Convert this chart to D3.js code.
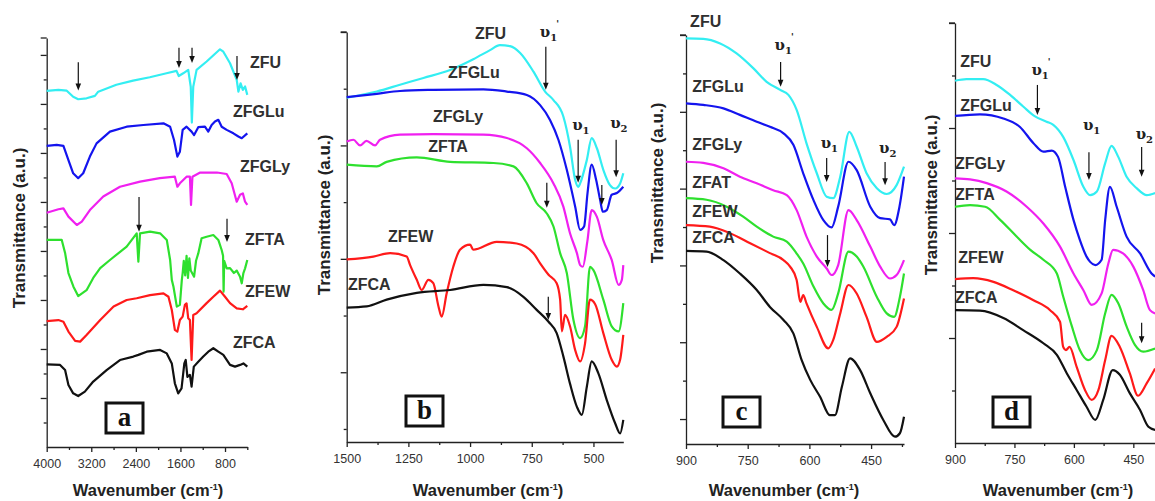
<!DOCTYPE html>
<meta charset="utf-8">
<style>
body { margin: 0; background: #fff; }
svg { font-family: Arial, "Liberation Sans", sans-serif; }
.series { fill: none; stroke-width: 2.2; stroke-linejoin: round; }
.axis path, .axis line { stroke: #222; stroke-width: 1.3; }
.axis text { font-size: 12.5px; fill: #333; }
.lab { font-size: 16px; font-weight: bold; fill: #303030; }
.title { font-size: 16.5px; font-weight: bold; fill: #222; }
.ytitle { font-size: 17px; font-weight: bold; fill: #222; }
.ups { font-family: "DejaVu Serif", serif; font-size: 15px; font-weight: bold; fill: #222; }
</style>
<svg width="1155" height="501"></svg>
<script src="https://cdn.jsdelivr.net/npm/d3@7"></script>
<script>

// ---- panel a : 4000-400 cm-1, [wavenumber, transmittance a.u.]
var a_ZFU = [[4000,14.53],[3790,14.57],[3640,14.54],[3525,14.29],[3435,14.19],[3285,14.23],[3135,14.33],[3075,14.5],[2750,14.78],[2450,14.95],[2150,15.09],[1850,15.25],[1670,15.35],[1630,15.14],[1550,15.25],[1460,15.39],[1415,14.7],[1395,13.24],[1370,14.7],[1310,15.39],[1130,15.73],[890,16.23],[830,16.13],[710,15.66],[590,14.98],[560,14.5],[520,14.84],[480,14.57],[440,14.71],[400,14.37]];
var a_ZFGLu = [[4000,12.29],[3820,12.33],[3700,12.29],[3610,11.71],[3525,11.17],[3435,10.97],[3345,11.17],[3225,11.85],[3105,12.39],[2865,12.87],[2565,13.07],[2265,13.14],[1905,13.21],[1785,13.07],[1715,12.53],[1655,11.85],[1610,12.05],[1560,12.94],[1490,13.07],[1400,12.87],[1355,12.73],[1280,13.05],[1160,13.07],[1100,12.87],[1040,13.14],[980,13.28],[920,13.35],[860,13.07],[770,12.94],[650,12.8],[560,12.67],[500,12.6],[400,12.8]];
var a_ZFGLy = [[4000,9.56],[3790,9.7],[3700,9.74],[3610,9.4],[3460,9.06],[3370,9.2],[3225,9.67],[2985,10.22],[2685,10.62],[2325,10.83],[1970,10.97],[1700,11.03],[1655,10.62],[1610,10.76],[1490,11.03],[1430,11.03],[1410,9.88],[1385,11.03],[1245,11.2],[945,11.2],[770,11.14],[680,10.76],[590,10.01],[530,10.29],[480,10.35],[440,10.01],[400,9.88]];
var a_ZFTA = [[4000,8.45],[3730,8.45],[3670,7.92],[3610,7.1],[3520,6.54],[3435,6.16],[3285,6.4],[3165,6.9],[3040,7.3],[2865,7.63],[2565,8.18],[2385,8.72],[2355,7.56],[2325,8.72],[2145,8.79],[1965,8.72],[1845,8.45],[1785,7.63],[1755,6.82],[1725,6.54],[1665,5.73],[1610,5.8],[1575,6.82],[1560,7.1],[1540,7.6],[1515,7.0],[1490,7.8],[1465,6.9],[1440,7.7],[1415,7.2],[1355,6.95],[1320,7.6],[1280,7.9],[1220,8.52],[1130,8.58],[1010,8.65],[920,8.45],[860,8.04],[835,7.8],[825,6.34],[815,7.6],[770,7.29],[710,7.3],[640,7.1],[590,7.2],[530,6.95],[500,6.68],[470,7.1],[440,7.29],[400,7.63]];
var a_ZFEW = [[4000,5.14],[3790,5.18],[3700,5.11],[3610,4.71],[3490,4.33],[3400,4.3],[3285,4.57],[3040,5.18],[2800,5.73],[2565,6.0],[2385,6.07],[2145,6.2],[1905,6.27],[1815,6.13],[1755,5.59],[1700,4.78],[1655,4.71],[1610,5.18],[1560,5.32],[1520,5.8],[1490,5.86],[1460,5.25],[1430,5.18],[1400,3.55],[1370,5.39],[1310,5.46],[1130,5.87],[1010,6.13],[890,6.38],[800,6.13],[710,5.87],[590,5.66],[480,5.62],[400,5.76]];
var a_ZFCA = [[4000,3.37],[3760,3.35],[3670,3.14],[3610,2.53],[3525,2.19],[3435,2.08],[3315,2.26],[3165,2.67],[2925,3.14],[2685,3.55],[2445,3.69],[2355,3.76],[2205,3.89],[1965,3.96],[1845,3.82],[1755,3.41],[1700,2.6],[1640,2.19],[1580,2.39],[1530,3.41],[1505,3.55],[1475,2.86],[1430,2.94],[1400,2.46],[1360,3.28],[1280,3.48],[1190,3.69],[1100,3.89],[1010,4.03],[920,3.89],[830,3.76],[710,3.35],[620,3.28],[530,3.35],[470,3.41],[400,3.28]];

// ---- panel b : 1500-380 cm-1
var b_ZFU = [[1500,6.84],[1378,6.95],[1284,7.07],[1189,7.19],[1081,7.33],[987,7.52],[919,7.68],[879,7.77],[838,7.75],[797,7.63],[743,7.3],[696,6.95],[662,6.8],[622,6.51],[595,5.98],[574,5.39],[561,5.27],[554,5.33],[527,5.74],[507,6.13],[486,5.95],[460,5.57],[433,5.3],[412,5.24],[392,5.33],[379,5.51]];
var b_ZFGLu = [[1500,6.85],[1378,6.91],[1284,6.96],[1149,6.98],[946,6.99],[851,6.95],[770,6.89],[716,6.71],[676,6.45],[642,6.1],[608,5.57],[574,4.92],[554,4.51],[538,4.57],[524,5.16],[507,5.66],[489,5.39],[473,5.04],[462,4.83],[446,4.86],[426,5.13],[405,5.16],[379,5.27]];
var b_ZFGLy = [[1500,6.07],[1473,6.1],[1446,6.0],[1420,6.08],[1385,6.0],[1365,6.1],[1284,6.19],[1149,6.2],[946,6.19],[851,6.13],[770,5.95],[716,5.69],[662,5.33],[622,4.92],[595,4.45],[567,4.1],[554,3.89],[543,3.86],[525,4.3],[507,4.86],[486,4.74],[460,4.33],[426,3.98],[398,3.54],[385,3.63],[379,3.89]];
var b_ZFTA = [[1500,5.66],[1378,5.63],[1338,5.71],[1216,5.79],[1081,5.71],[905,5.69],[824,5.63],[770,5.33],[730,4.98],[689,4.8],[662,4.57],[635,4.1],[608,3.75],[581,2.92],[554,2.6],[534,2.81],[514,3.86],[500,3.8],[460,3.28],[426,2.81],[398,2.72],[379,3.22]];
var b_ZFEW = [[1500,3.99],[1392,4.04],[1324,4.1],[1257,4.04],[1243,3.89],[1216,3.63],[1196,3.45],[1169,3.63],[1149,3.57],[1128,3.16],[1115,2.98],[1095,3.39],[1068,3.86],[1041,4.16],[1000,4.25],[987,4.16],[892,4.3],[811,4.27],[743,4.1],[716,3.92],[682,3.72],[649,3.57],[635,3.28],[628,2.72],[615,3.01],[595,2.81],[574,2.39],[554,2.19],[534,2.51],[514,3.28],[493,3.2],[460,2.69],[426,2.22],[405,2.1],[392,2.22],[379,2.66]];
var b_ZFCA = [[1500,3.14],[1419,3.16],[1338,3.28],[1216,3.4],[1081,3.45],[946,3.54],[851,3.5],[784,3.33],[730,3.1],[682,2.89],[649,2.69],[622,2.28],[595,1.8],[567,1.39],[547,1.25],[527,1.74],[507,2.19],[480,1.98],[446,1.51],[412,1.1],[392,0.92],[379,1.16]];

// ---- panel c : 900-370 cm-1
var c_ZFU = [[900,10.91],[858,10.9],[817,10.78],[777,10.52],[736,10.13],[704,9.78],[671,9.57],[651,9.44],[631,9.05],[607,8.18],[582,7.4],[558,6.79],[542,6.75],[525,7.31],[503,8.48],[485,8.09],[461,7.4],[436,7.01],[412,6.86],[388,7.09],[370,7.57]];
var c_ZFGLu = [[900,9.22],[858,9.18],[809,9.09],[769,8.92],[728,8.74],[696,8.61],[663,8.44],[639,8.14],[615,7.4],[590,6.7],[566,6.18],[546,5.99],[530,6.53],[505,7.7],[485,7.48],[452,6.53],[428,6.23],[404,6.2],[394,6.05],[381,6.53],[370,7.31]];
var c_ZFGLy = [[900,7.7],[858,7.67],[809,7.53],[769,7.31],[728,7.14],[688,6.96],[655,6.83],[631,6.44],[607,5.75],[582,5.23],[558,4.92],[546,4.75],[530,5.01],[505,6.44],[485,6.18],[452,5.49],[428,4.97],[404,4.66],[388,4.75],[370,5.14]];
var c_ZFAT = [[900,6.75],[850,6.71],[801,6.53],[761,6.27],[728,6.01],[688,5.75],[655,5.62],[631,5.31],[615,5.05],[590,4.45],[566,4.01],[546,3.84],[530,4.27],[505,5.36],[485,5.23],[469,4.97],[436,4.18],[412,3.75],[394,3.66],[380,4.18],[370,4.79]];
var c_ZFEW = [[900,6.05],[842,6.01],[793,5.84],[744,5.58],[696,5.32],[663,5.14],[647,4.97],[631,4.62],[622,4.05],[615,4.23],[607,4.01],[582,3.4],[554,2.84],[542,3.06],[525,3.75],[505,4.49],[485,4.27],[461,3.66],[436,3.01],[412,3.14],[388,3.4],[370,4.14]];
var c_ZFCA = [[900,5.38],[850,5.36],[809,5.14],[769,4.79],[728,4.36],[696,3.92],[663,3.58],[639,3.23],[619,2.54],[598,2.02],[574,1.58],[550,1.1],[538,1.1],[521,1.84],[501,2.58],[477,2.28],[452,1.67],[420,0.97],[392,0.54],[380,0.63],[370,1.06]];

// ---- panel d : 900-395 cm-1
var d_ZFU = [[900,6.9],[871,6.93],[829,6.93],[795,6.82],[761,6.63],[728,6.41],[698,6.22],[669,6.12],[652,6.06],[627,5.83],[601,5.39],[576,4.88],[559,4.72],[542,4.79],[521,5.33],[505,5.66],[488,5.45],[467,5.07],[441,4.85],[416,4.72],[395,4.76]];
var d_ZFGLu = [[900,6.23],[837,6.26],[778,6.18],[736,6.02],[702,5.71],[677,5.55],[656,5.57],[640,5.45],[622,4.88],[601,4.25],[585,3.87],[568,3.55],[559,3.45],[546,3.39],[530,3.49],[521,4.25],[509,4.88],[492,4.5],[467,3.93],[433,3.61],[404,3.23],[395,3.17]];
var d_ZFGLy = [[900,5.04],[862,5.02],[820,4.95],[770,4.79],[719,4.5],[677,4.18],[635,3.74],[601,3.23],[576,2.91],[555,2.63],[530,2.85],[513,3.42],[501,3.68],[476,3.61],[450,3.36],[425,2.91],[408,2.53],[395,2.47]];
var d_ZFTA = [[900,4.5],[862,4.53],[824,4.5],[786,4.25],[744,3.93],[710,3.68],[677,3.49],[643,3.23],[627,2.79],[605,2.22],[585,1.77],[564,1.58],[542,1.77],[521,2.47],[505,2.82],[488,2.66],[467,2.22],[446,1.87],[425,1.74],[395,1.8]];
var d_ZFEW = [[900,3.12],[854,3.14],[803,3.07],[753,2.91],[702,2.72],[660,2.53],[635,2.31],[627,1.83],[620,1.77],[611,1.83],[593,1.45],[572,1.01],[555,0.82],[538,1.01],[521,1.58],[505,2.04],[484,1.83],[459,1.33],[438,0.9],[416,1.14],[395,1.42]];
var d_ZFCA = [[900,2.53],[837,2.52],[778,2.38],[728,2.15],[677,1.9],[643,1.68],[618,1.33],[593,1.01],[568,0.69],[546,0.44],[526,0.82],[502,1.39],[484,1.3],[459,0.95],[433,0.63],[412,0.31],[395,0.25]];

var colors = ["#33eef2", "#1414ee", "#f020f0", "#2ee02e", "#ff1a1a", "#111111"];

// series labels: [text, wavenumber, a.u.]
var a_labels = [["ZFU",351,15.47],["ZFGLu",657,13.47],["ZFGLy",531,11.22],["ZFTA",441,8.24],["ZFEW",441,6.12],["ZFCA",657,4.04]];
var b_labels = [["ZFU",980,7.88],["ZFGLu",1089,7.19],["ZFGLy",1150,6.41],["ZFTA",1170,5.89],["ZFEW",1333,4.3],["ZFCA",1495,3.45]];
var c_labels = [["ZFU",890,11.21],["ZFGLu",885,9.52],["ZFGLy",885,8.0],["ZFAT",885,7.02],["ZFEW",885,6.26],["ZFCA",885,5.58]];
var d_labels = [["ZFU",887,7.16],["ZFGLu",887,6.32],["ZFGLy",900,5.22],["ZFTA",900,4.63],["ZFEW",892,3.43],["ZFCA",900,2.67]];

// arrows: [wavenumber, from a.u., to a.u.]
var a_arrows = [[3433,15.7,14.55],[1626,16.29,15.47],[1392,16.29,15.67],[585,15.96,14.98],[2343,10.2,8.78],[764,9.31,8.37]];
var b_arrows = [[693,7.74,6.98],[562,6.1,5.34],[408,6.1,5.44],[689,5.34,4.9],[466,5.3,4.95],[683,3.33,2.92]];
var c_arrows = [[670,10.3,9.65],[558,7.8,7.17],[416,7.69,7.09],[556,5.79,4.96]];
var d_arrows = [[692,6.82,6.25],[562,5.54,5.01],[429,5.64,5.07],[429,2.29,1.9]];

// band labels: [sub, prime, wavenumber, a.u.]
var b_bands = [["1",true,693,7.91],["1",false,562,6.27],["2",false,408,6.31]];
var c_bands = [["1",true,670,10.61],["1",false,558,8.06],["2",false,416,7.93]];
var d_bands = [["1",true,692,7.01],["1",false,562,5.96],["2",false,429,5.79]];

var panels = [
  {letter:"a", left:46.7, right:247.3, top:38, bottom:447, xDom:[4000,400], yDom:[0,16.69],
   xTicks:d3.range(4000,399,-400), xLab:[4000,3200,2400,1600,800], yTicks:d3.range(1,17), yMajor:function(v){return v%2===0;},
   series:[a_ZFU,a_ZFGLu,a_ZFGLy,a_ZFTA,a_ZFEW,a_ZFCA], labels:a_labels, arrows:a_arrows, bands:[],
   curve:d3.curveLinear, box:[106,403], xTitle:148, yTitle:[19,228]},
  {letter:"b", left:346.7, right:623.3, top:32, bottom:442, xDom:[1500,379], yDom:[0.77,8.0],
   xTicks:d3.range(1500,379,-125), xLab:[1500,1250,1000,750,500], yTicks:d3.range(1,9), yMajor:function(v){return v%2===0;},
   series:[b_ZFU,b_ZFGLu,b_ZFGLy,b_ZFTA,b_ZFEW,b_ZFCA], labels:b_labels, arrows:b_arrows, bands:b_bands,
   curve:d3.curveMonotoneX, box:[406,396], xTitle:488, yTitle:[324,215]},
  {letter:"c", left:686, right:904, top:35, bottom:444, xDom:[900,370], yDom:[0.35,11.0],
   xTicks:d3.range(900,369,-75), xLab:[900,750,600,450], yTicks:d3.range(1,12), yMajor:function(v){return v%2===1;},
   series:[c_ZFU,c_ZFGLu,c_ZFGLy,c_ZFAT,c_ZFEW,c_ZFCA], labels:c_labels, arrows:c_arrows, bands:c_bands,
   curve:d3.curveMonotoneX, box:[723,397], xTitle:784, yTitle:[657,183]},
  {letter:"d", left:955, right:1155, top:23, bottom:443, xDom:[900,395.3], yDom:[0,8],
   xTicks:d3.range(900,394,-75), xLab:[900,750,600,450], yTicks:d3.range(1,9), yMajor:function(v){return v%2===0;},
   series:[d_ZFU,d_ZFGLu,d_ZFGLy,d_ZFTA,d_ZFEW,d_ZFCA], labels:d_labels, arrows:d_arrows, bands:d_bands,
   curve:d3.curveMonotoneX, box:[993,397], xTitle:1058, yTitle:[931,195]}
];

var svg = d3.select("svg");

panels.forEach(function(p) {
  var x = d3.scaleLinear().domain(p.xDom).range([p.left, p.right]);
  var y = d3.scaleLinear().domain(p.yDom).range([p.bottom, p.top]);
  var g = svg.append("g");

  // axes
  g.append("g").attr("class", "axis")
      .attr("transform", "translate(0," + p.bottom + ")")
      .call(d3.axisBottom(x).tickValues(p.xTicks.filter(function(t){ return p.xLab.indexOf(t) < 0; }))
        .tickSize(3).tickSizeOuter(0).tickFormat(""));
  g.append("g").attr("class", "axis")
      .attr("transform", "translate(0," + p.bottom + ")")
      .call(d3.axisBottom(x).tickValues(p.xLab).tickSize(5).tickSizeOuter(0).tickPadding(7).tickFormat(d3.format("d")))
      .select(".domain").remove();
  g.append("g").attr("class", "axis")
      .attr("transform", "translate(" + p.left + ",0)")
      .call(d3.axisLeft(y).tickValues(p.yTicks.filter(function(v){ return !p.yMajor(v); }))
        .tickSize(3).tickSizeOuter(0).tickFormat(""));
  g.append("g").attr("class", "axis")
      .attr("transform", "translate(" + p.left + ",0)")
      .call(d3.axisLeft(y).tickValues(p.yTicks.filter(p.yMajor)).tickSize(6).tickSizeOuter(0).tickFormat(""))
      .select(".domain").remove();
  // top cap of y axis
  g.append("line").attr("x1", p.left - 6).attr("x2", p.left).attr("y1", p.top).attr("y2", p.top)
      .attr("stroke", "#222").attr("stroke-width", 1.3);

  // spectra
  var line = d3.line().x(function(d){ return x(d[0]); }).y(function(d){ return y(d[1]); }).curve(p.curve);
  g.selectAll("path.series").data(p.series).enter().append("path")
      .attr("class", "series")
      .attr("stroke", function(d, i){ return colors[i]; })
      .attr("d", line);

  // series names
  g.selectAll("text.lab").data(p.labels).enter().append("text")
      .attr("class", "lab")
      .attr("x", function(d){ return x(d[1]); })
      .attr("y", function(d){ return y(d[2]); })
      .text(function(d){ return d[0]; });

  // arrows
  var ar = g.selectAll("g.arrow").data(p.arrows).enter().append("g").attr("class", "arrow");
  ar.append("line")
      .attr("x1", function(d){ return x(d[0]); }).attr("x2", function(d){ return x(d[0]); })
      .attr("y1", function(d){ return y(d[1]); }).attr("y2", function(d){ return y(d[2]) - 3; })
      .attr("stroke", "#111").attr("stroke-width", 1.2);
  ar.append("path")
      .attr("d", function(d){
        var xx = x(d[0]), yy = y(d[2]);
        return "M" + (xx - 2.8) + "," + (yy - 7) + "L" + (xx + 2.8) + "," + (yy - 7) + "L" + xx + "," + yy + "Z";
      })
      .attr("fill", "#111");

  // band labels (upsilon)
  var bt = g.selectAll("text.ups").data(p.bands).enter().append("text")
      .attr("class", "ups")
      .attr("x", function(d){ return x(d[2]) - 6; })
      .attr("y", function(d){ return y(d[3]); });
  bt.append("tspan").text("υ");
  bt.append("tspan").attr("dy", 4).style("font-size", "10px").text(function(d){ return d[0]; });
  bt.filter(function(d){ return d[1]; }).append("tspan").attr("dx", -1).attr("dy", -14)
      .style("font-size", "9px").text("'");

  // panel letter box
  g.append("rect").attr("x", p.box[0]).attr("y", p.box[1]).attr("width", 37).attr("height", 30)
      .attr("fill", "#fff").attr("stroke", "#111").attr("stroke-width", 3);
  g.append("text").attr("x", p.box[0] + 18.5).attr("y", p.box[1] + 23)
      .attr("text-anchor", "middle")
      .style("font-family", "'Liberation Serif', 'DejaVu Serif', serif")
      .style("font-weight", "bold").style("font-size", "27px").attr("fill", "#111")
      .text(p.letter);

  // titles
  var xt = g.append("text").attr("class", "title")
      .attr("x", p.xTitle).attr("y", 496)
      .attr("text-anchor", "middle");
  xt.append("tspan").text("Wavenumber (cm");
  xt.append("tspan").attr("dy", -6).style("font-size", "9px").text("-1");
  xt.append("tspan").attr("dy", 6).text(")");

  svg.append("text").attr("class", "ytitle")
      .attr("transform", "translate(" + p.yTitle[0] + "," + p.yTitle[1] + ") rotate(-90)")
      .attr("text-anchor", "middle").attr("dy", "0.35em")
      .text("Transmittance (a.u.)");
});

</script>
